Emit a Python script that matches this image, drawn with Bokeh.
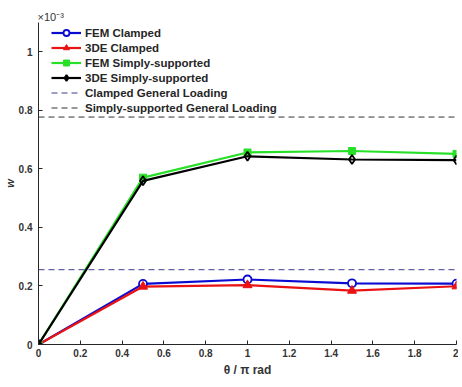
from bokeh.plotting import figure
from bokeh.models import Legend, LegendItem, FixedTicker, Span
from bokeh.embed import file_html
from bokeh.resources import INLINE

theta = [0, 0.5, 1, 1.5, 2]
fem_clamped = [0, 0.207, 0.222, 0.209, 0.208]
de_clamped = [0, 0.198, 0.203, 0.184, 0.199]
fem_ss = [0, 0.570, 0.656, 0.661, 0.651]
de_ss = [0, 0.559, 0.643, 0.632, 0.630]
clamped_general = 0.2555
ss_general = 0.777

x_ticks = [0, 0.2, 0.4, 0.6, 0.8, 1, 1.2, 1.4, 1.6, 1.8, 2]
x_tick_labels = ["0", "0.2", "0.4", "0.6", "0.8", "1", "1.2", "1.4", "1.6", "1.8", "2"]
y_ticks = [0, 0.2, 0.4, 0.6, 0.8, 1]
y_tick_labels = ["0", "0.2", "0.4", "0.6", "0.8", "1"]

FONT = "Liberation Sans"

p = figure(width=458, height=379, output_backend="svg", toolbar_location=None,
           x_range=(0, 2), y_range=(0, 1.1),
           min_border_left=32, min_border_right=2, min_border_top=22, min_border_bottom=27)
p.outline_line_color = None
p.grid.visible = False
p.background_fill_color = "white"

p.title.text = "×10⁻³"
p.title.text_font = FONT
p.title.text_font_style = "normal"
p.title.text_font_size = "11px"
p.title.text_color = "#333333"
p.title.offset = -1
p.title.standoff = 0

for ax in (p.xaxis[0], p.yaxis[0]):
    ax.major_tick_in = 4
    ax.major_tick_out = 0
    ax.minor_tick_line_color = None
    ax.axis_line_color = "#262626"
    ax.major_tick_line_color = "#262626"
    ax.major_label_text_font = FONT
    ax.major_label_text_font_style = "bold"
    ax.major_label_text_font_size = "10px"
    ax.major_label_text_color = "#333333"
    ax.axis_label_text_font = FONT
    ax.axis_label_text_color = "#333333"

p.xaxis.ticker = FixedTicker(ticks=x_ticks)
p.xaxis.major_label_overrides = {t: l for t, l in zip(x_ticks, x_tick_labels)}
p.yaxis.ticker = FixedTicker(ticks=y_ticks)
p.yaxis.major_label_overrides = {t: l for t, l in zip(y_ticks, y_tick_labels)}
p.xaxis.axis_label = "θ / π rad"
p.xaxis.axis_label_text_font_style = "bold"
p.xaxis.axis_label_text_font_size = "12px"
p.xaxis.axis_label_standoff = 3
p.xaxis.major_label_standoff = 4
p.yaxis.axis_label = "w"
p.yaxis.axis_label_text_font_style = "bold italic"
p.yaxis.axis_label_text_font_size = "11px"
p.yaxis.axis_label_standoff = 0
p.yaxis.major_label_standoff = 6

s1 = Span(location=clamped_general, dimension="width", line_color="#3b3b8f",
          line_dash="6 4", line_width=1)
s2 = Span(location=ss_general, dimension="width", line_color="#333333",
          line_dash="6 4", line_width=1)
p.add_layout(s1)
p.add_layout(s2)

l_blue = p.line(theta, fem_clamped, line_color="#0a0ad0", line_width=2.2)
m_blue = p.scatter(theta, fem_clamped, marker="circle", size=8, line_color="#0a0ad0",
                   fill_color="white", line_width=1.8)
l_red = p.line(theta, de_clamped, line_color="#ea1212", line_width=2.2)
m_red = p.scatter(theta, de_clamped, marker="triangle", size=9, line_color="#ea1212",
                  fill_color="#ea1212", line_width=1)
l_green = p.line(theta, fem_ss, line_color="#28e028", line_width=2.2)
m_green = p.scatter(theta, fem_ss, marker="square", size=7, line_color="#28e028",
                    fill_color="#28e028", line_width=1)
l_black = p.line(theta, de_ss, line_color="black", line_width=2.2)
m_black = p.scatter(theta, de_ss, marker="diamond", size=9, line_color="black",
                    fill_color=None, line_width=1.8)

d1 = p.line([0, 0.001], [-5, -5], line_color="#3b3b8f", line_dash="6 4", line_width=1)
d2 = p.line([0, 0.001], [-5, -5], line_color="#333333", line_dash="6 4", line_width=1)

legend = Legend(items=[
    LegendItem(label="FEM Clamped", renderers=[l_blue, m_blue]),
    LegendItem(label="3DE Clamped", renderers=[l_red, m_red]),
    LegendItem(label="FEM Simply-supported", renderers=[l_green, m_green]),
    LegendItem(label="3DE Simply-supported", renderers=[l_black, m_black]),
    LegendItem(label="Clamped General Loading", renderers=[d1]),
    LegendItem(label="Simply-supported General Loading", renderers=[d2]),
], location=(13, 229))
legend.label_text_font = FONT
legend.label_text_font_style = "bold"
legend.label_text_font_size = "11.5px"
legend.label_text_color = "#262626"
legend.border_line_color = None
legend.background_fill_alpha = 0
legend.glyph_width = 30
legend.glyph_height = 15
legend.label_height = 15
legend.spacing = 0
legend.padding = 0
legend.margin = 0
legend.label_standoff = 4
p.add_layout(legend)

open("out.html", "w").write(file_html(p, INLINE))
